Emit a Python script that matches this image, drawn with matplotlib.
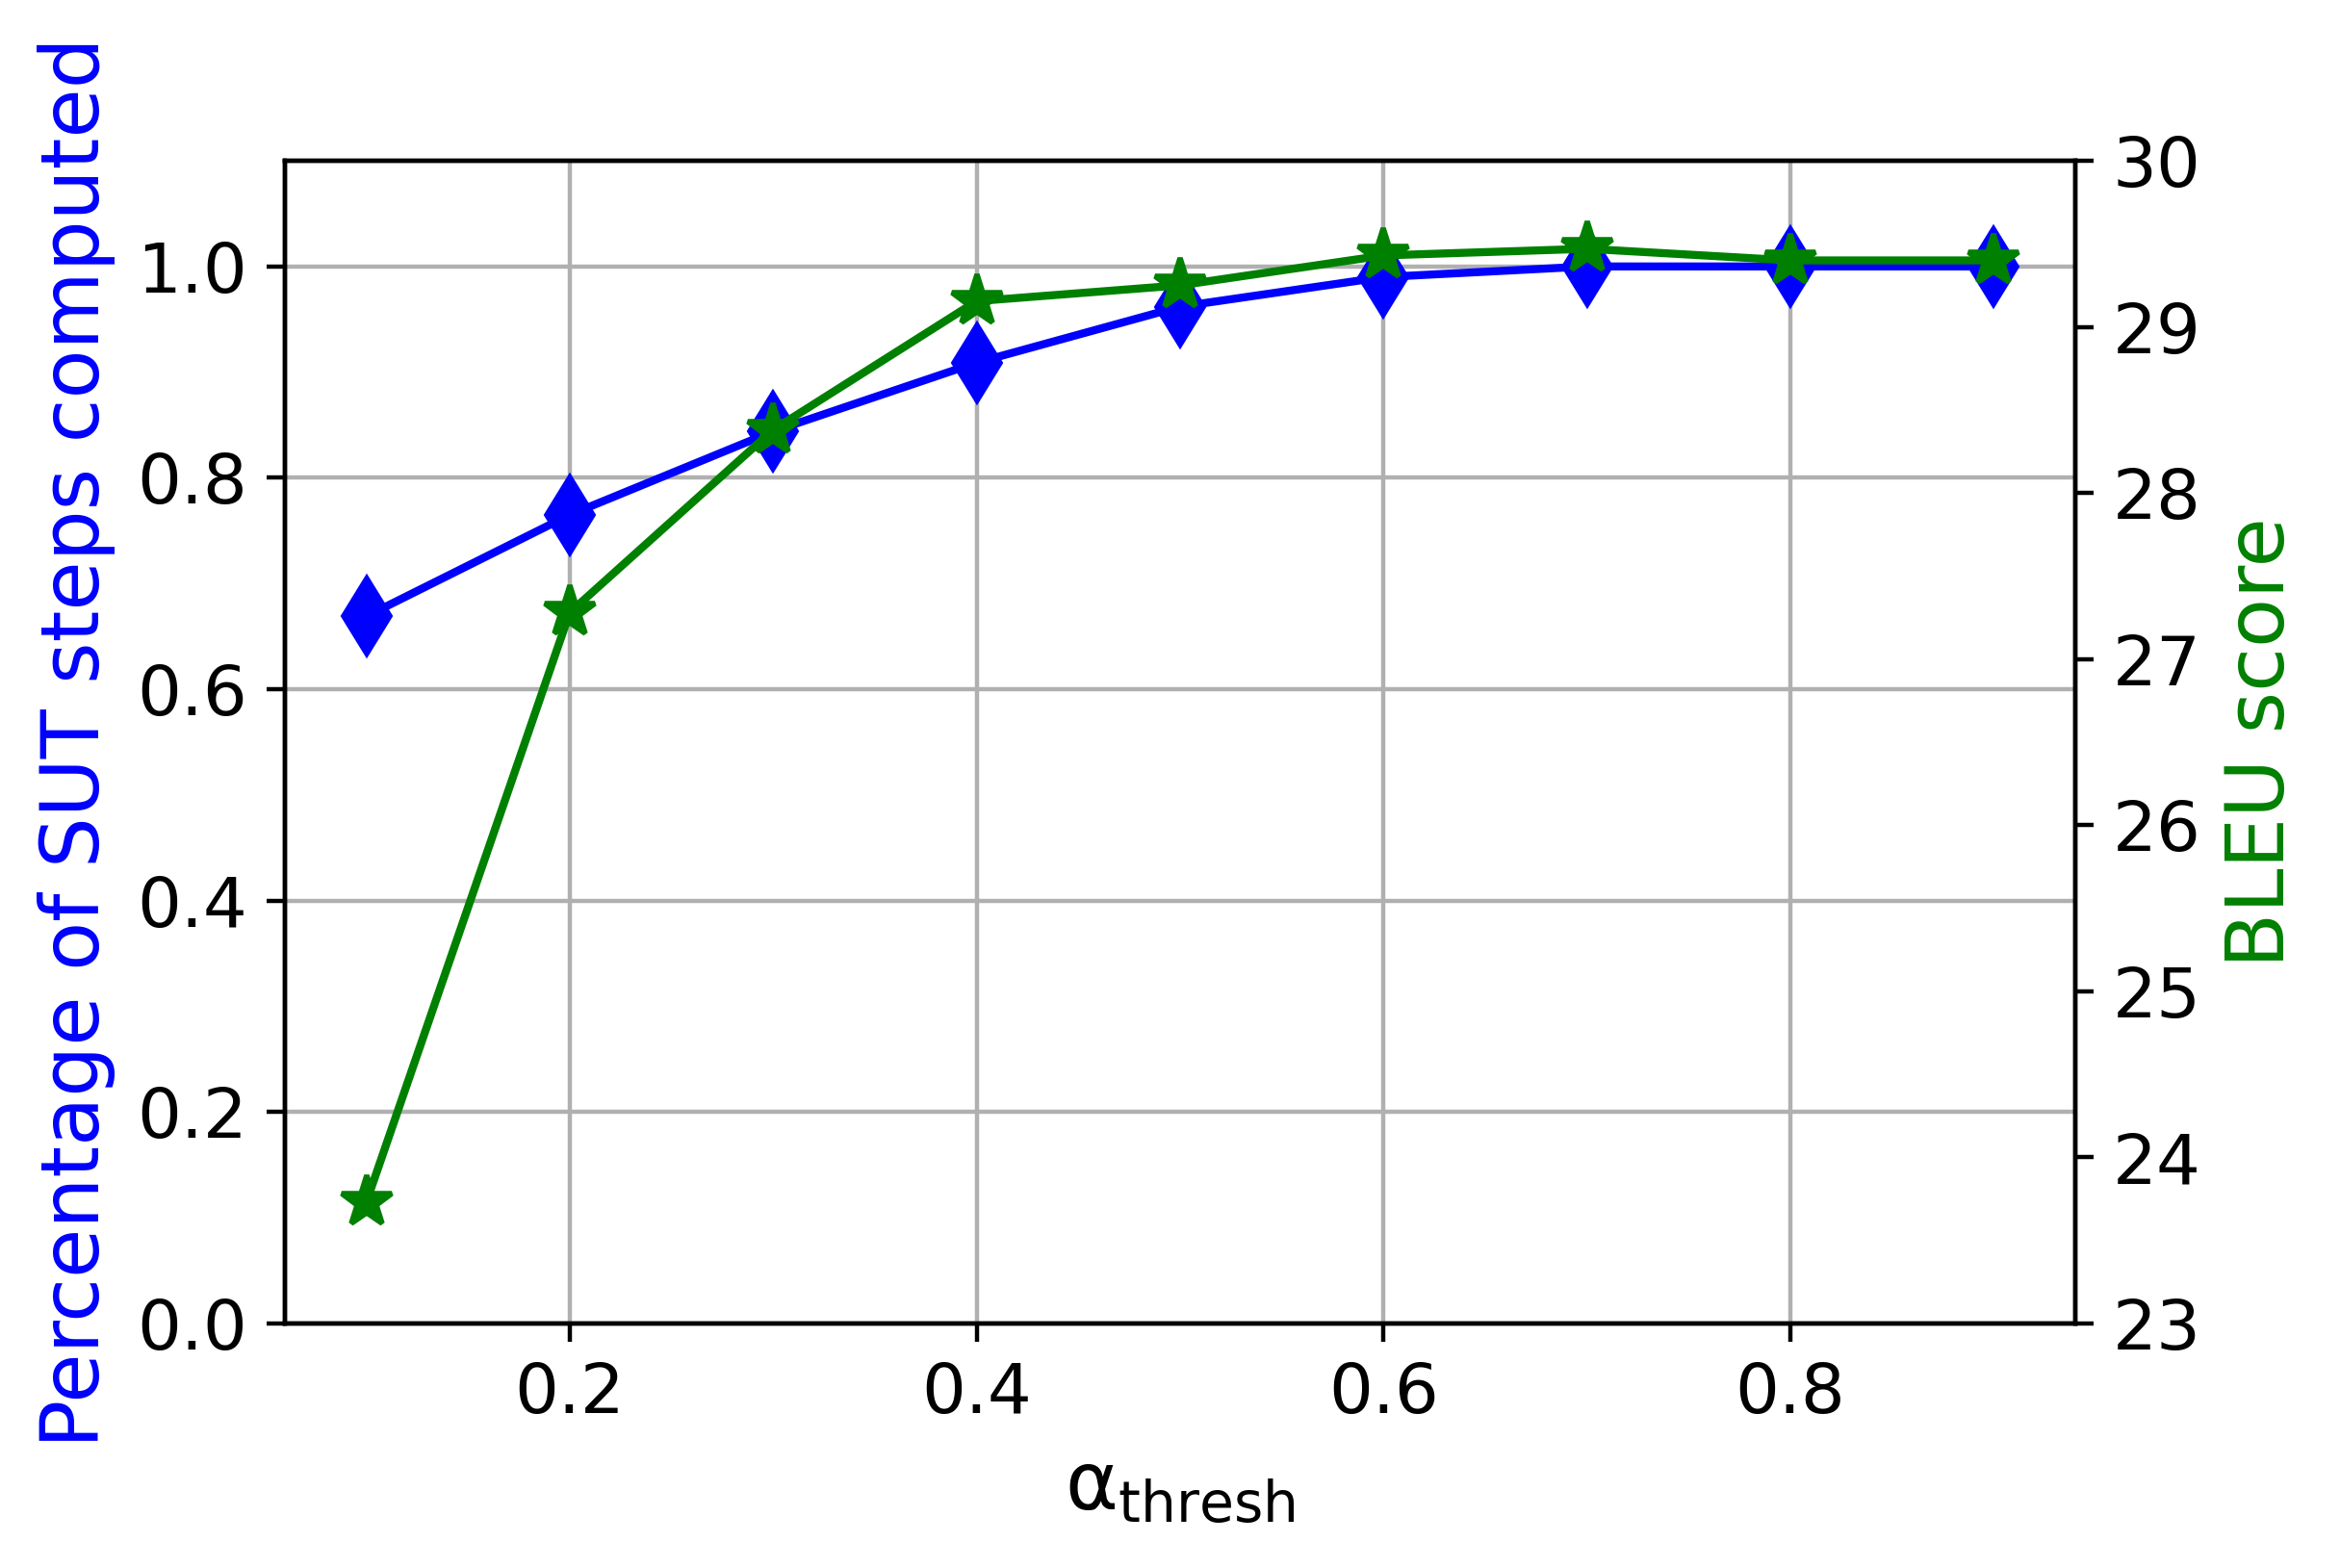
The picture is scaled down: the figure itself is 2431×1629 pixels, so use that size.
import matplotlib
matplotlib.use("Agg")
import matplotlib.pyplot as plt

alpha_thresh = [0.1, 0.2, 0.3, 0.4, 0.5, 0.6, 0.7, 0.8, 0.9]
pct_sut_steps = [0.669, 0.765, 0.844, 0.909, 0.962, 0.990, 1.0, 1.0, 1.0]
bleu_score = [23.73, 27.28, 28.38, 29.155, 29.25, 29.43, 29.47, 29.40, 29.40]

DPI = 400
W, H = 2431, 1629
fig = plt.figure(figsize=(W / DPI, H / DPI), dpi=DPI)
ax = fig.add_axes([296 / W, 1 - 1375 / H, (2156 - 296) / W, (1375 - 167) / H])

tick_fs = 13
label_fs = 15

ax.plot(alpha_thresh, pct_sut_steps, color='blue', marker='d', markersize=10, linewidth=1.5)
ax.set_ylim(0, 1.1)
ax.set_yticks([0.0, 0.2, 0.4, 0.6, 0.8, 1.0])
ax.set_xticks([0.2, 0.4, 0.6, 0.8])
ax.grid(True, color='#b0b0b0', linewidth=0.8)
ax.set_ylabel('Percentage of SUT steps computed', color='blue', fontsize=label_fs)
ax.set_xlabel(r'α$_{\mathrm{thresh}}$', fontsize=label_fs)
ax.tick_params(labelsize=tick_fs)

ax2 = ax.twinx()
ax2.plot(alpha_thresh, bleu_score, color='green', marker='*', markersize=10, linewidth=1.5)
ax2.set_ylim(23, 30)
ax2.set_ylabel('BLEU score', color='green', fontsize=label_fs)
ax2.tick_params(labelsize=tick_fs)

fig.savefig('out.png', dpi=DPI)
